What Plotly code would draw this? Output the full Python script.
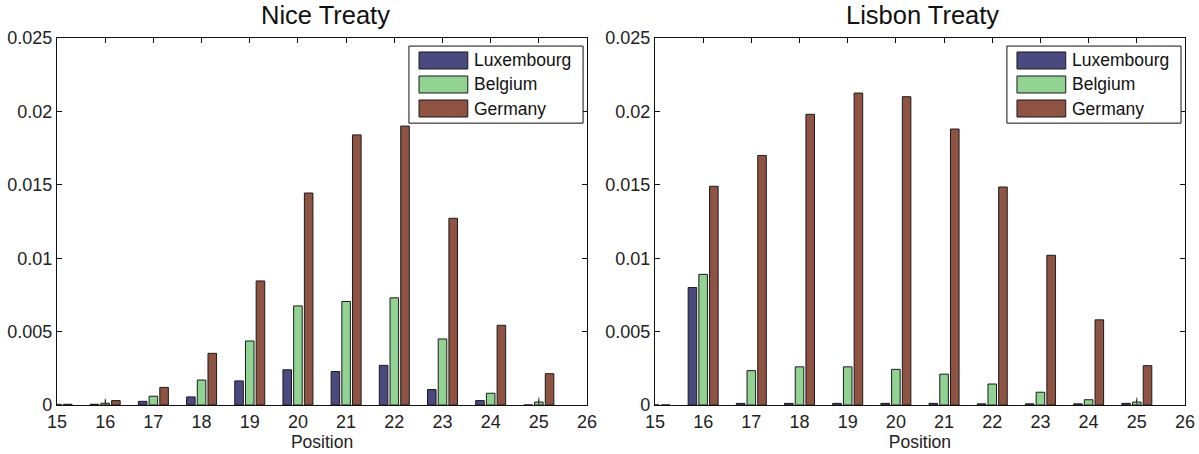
import plotly.graph_objects as go

positions = [15, 16, 17, 18, 19, 20, 21, 22, 23, 24, 25]
countries = ["Luxembourg", "Belgium", "Germany"]

nice_luxembourg = [0.00003, 0.00005, 0.00025, 0.00055, 0.00164, 0.0024, 0.00228, 0.0027, 0.00105, 0.0003, 0.0]
nice_belgium = [0.00005, 0.00012, 0.0006, 0.0017, 0.00436, 0.00675, 0.00705, 0.0073, 0.0045, 0.0008, 0.0002]
nice_germany = [0.00005, 0.0003, 0.0012, 0.00352, 0.00845, 0.01444, 0.0184, 0.0190, 0.01272, 0.00543, 0.00213]
nice_belgium_err = [0, 0.0003, 0, 0, 0, 0, 0, 0, 0, 0, 0.0003]

lisbon_luxembourg = [0.0, 0.0080, 0.00011, 0.00011, 0.00011, 0.00011, 0.00011, 0.00008, 0.00008, 0.00008, 0.00011]
lisbon_belgium = [0.0, 0.0089, 0.00234, 0.0026, 0.0026, 0.00243, 0.0021, 0.00143, 0.00087, 0.00036, 0.0002]
lisbon_germany = [0.0, 0.0149, 0.0170, 0.0198, 0.02125, 0.0210, 0.0188, 0.01485, 0.0102, 0.0058, 0.00268]
lisbon_belgium_err = [0, 0, 0, 0, 0, 0, 0, 0, 0, 0, 0.0003]

colors = ["#4b4a80", "#92d292", "#8e5342"]
titles = ["Nice Treaty", "Lisbon Treaty"]
y_ticks = [0, 0.005, 0.01, 0.015, 0.02, 0.025]
y_tick_labels = ["0", "0.005", "0.01", "0.015", "0.02", "0.025"]
x_ticks = list(range(15, 27))

FONT = "Liberation Sans, Arial, Helvetica, sans-serif"

fig = go.Figure()
panels = [
    ("x", "y", [nice_luxembourg, nice_belgium, nice_germany], nice_belgium_err),
    ("x2", "y2", [lisbon_luxembourg, lisbon_belgium, lisbon_germany], lisbon_belgium_err),
]
for xa, ya, series, berr in panels:
    for name, vals, col in zip(countries, series, colors):
        kw = {}
        if name == "Belgium":
            kw["error_y"] = dict(type="data", array=berr, symmetric=True,
                                 color="#333", thickness=1, width=0)
        fig.add_trace(go.Bar(
            x=positions, y=vals, name=name, xaxis=xa, yaxis=ya,
            marker=dict(color=col, line=dict(color="#1a1a1a", width=1)),
            offsetgroup=name, showlegend=False, **kw,
        ))

axis_common = dict(
    showline=True, linecolor="#111", linewidth=1.2, mirror="ticks",
    ticks="inside", ticklen=5, tickcolor="#111", showgrid=False, zeroline=False,
    automargin=False, layer="below traces",
    tickfont=dict(family=FONT, size=18, color="#222"),
)

fig.update_layout(
    width=1199, height=454,
    margin=dict(l=57, r=14, t=38, b=49),
    paper_bgcolor="white", plot_bgcolor="white",
    barmode="group", bargap=1/3, bargroupgap=0.2,
    font=dict(family=FONT, size=18, color="#222"),
    xaxis=dict(domain=[0, 0.4699], range=[15, 26], tickvals=x_ticks, anchor="y",
               title=dict(text="Position", standoff=0, font=dict(size=17.5)), **axis_common),
    yaxis=dict(domain=[0, 1], range=[0, 0.025], tickvals=y_ticks, ticktext=y_tick_labels,
               anchor="x", **axis_common),
    xaxis2=dict(domain=[0.5301, 1], range=[15, 26], tickvals=x_ticks, anchor="y2",
                title=dict(text="Position", standoff=0, font=dict(size=17.5)), **axis_common),
    yaxis2=dict(domain=[0, 1], range=[0, 0.025], tickvals=y_ticks, ticktext=y_tick_labels,
                anchor="x2", **axis_common),
    showlegend=False,
)

# titles
for i, t in enumerate(titles):
    xref = "x domain" if i == 0 else "x2 domain"
    yref = "y domain" if i == 0 else "y2 domain"
    fig.add_annotation(text=t, x=0.5, y=1.0, xref=xref, yref=yref,
                       xanchor="center", yanchor="bottom", yshift=7, xshift=3, showarrow=False,
                       font=dict(family=FONT, size=25.5, color="#111"))

# MATLAB-style legends (large swatches) drawn inside each panel
row_y = [0.9387, 0.8733, 0.8079]
for xa, ya in [("x", "y"), ("x2", "y2")]:
    xr, yr = f"{xa} domain", f"{ya} domain"
    fig.add_shape(type="rect", xref=xr, yref=yr, x0=0.664, x1=0.9925, y0=0.768, y1=0.978,
                  line=dict(color="#111", width=1), fillcolor="white", layer="above")
    for name, col, yc in zip(countries, colors, row_y):
        fig.add_shape(type="rect", xref=xr, yref=yr, x0=0.683, x1=0.775,
                      y0=yc - 0.0232, y1=yc + 0.0232,
                      line=dict(color="#1a1a1a", width=1), fillcolor=col, layer="above")
        fig.add_annotation(text=name, xref=xr, yref=yr, x=0.783, y=yc,
                           xanchor="left", yanchor="middle", showarrow=False,
                           font=dict(family=FONT, size=17.5, color="#111"))

fig.write_html("out.html", config={"displayModeBar": False},
               post_script="document.body.style.margin='0';document.body.style.overflow='hidden';")
